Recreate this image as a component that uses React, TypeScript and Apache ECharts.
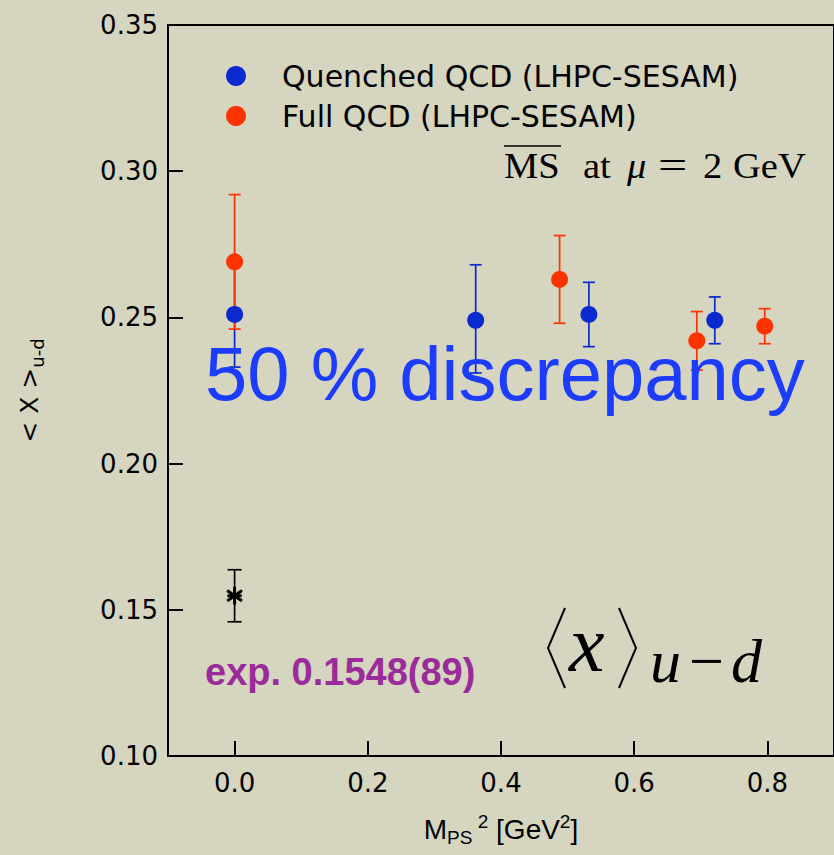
import React, { useEffect, useRef } from "react";
import * as echarts from "echarts";

// Quenched QCD (LHPC-SESAM)
const quenchedX = [0.0, 0.362, 0.532, 0.721];
const quenchedY = [0.251, 0.249, 0.251, 0.249];
const quenchedLow = [0.233, 0.231, 0.24, 0.241];
const quenchedHigh = [0.269, 0.268, 0.262, 0.257];

// Full QCD (LHPC-SESAM)
const fullX = [0.0, 0.488, 0.694, 0.796];
const fullY = [0.269, 0.263, 0.242, 0.247];
const fullLow = [0.246, 0.248, 0.232, 0.241];
const fullHigh = [0.292, 0.278, 0.252, 0.253];

// experiment
const expX = [0.0];
const expY = [0.1548];
const expErr = [0.0089];

const xTickValues = [0.0, 0.2, 0.4, 0.6, 0.8];
const yMin = 0.1;
const yMax = 0.35;
const yStep = 0.05;
const xMin = -0.1;
const xMax = 0.9;

const seriesNames = ["Quenched QCD (LHPC-SESAM)", "Full QCD (LHPC-SESAM)"];

const BLUE = "#0a29cf";
const RED = "#ff3300";

function errorBarRender(color: string) {
  return (params: any, api: any) => {
    const x = api.value(0);
    const lo = api.value(1);
    const hi = api.value(2);
    const pLo = api.coord([x, lo]);
    const pHi = api.coord([x, hi]);
    const cap = 6;
    const style = { stroke: color, lineWidth: 1.7 };
    return {
      type: "group",
      children: [
        { type: "line", shape: { x1: pLo[0], y1: pLo[1], x2: pHi[0], y2: pHi[1] }, style },
        { type: "line", shape: { x1: pLo[0] - cap, y1: pLo[1], x2: pLo[0] + cap, y2: pLo[1] }, style },
        { type: "line", shape: { x1: pHi[0] - cap, y1: pHi[1], x2: pHi[0] + cap, y2: pHi[1] }, style },
      ],
    };
  };
}

function asteriskRender(params: any, api: any) {
  const x = api.value(0);
  const y = api.value(1);
  const e = api.value(2);
  const c = api.coord([x, y]);
  const pLo = api.coord([x, y - e]);
  const pHi = api.coord([x, y + e]);
  const cap = 7;
  const r = 9;
  const style = { stroke: "#000", lineWidth: 1.7 };
  const star = { stroke: "#000", lineWidth: 3 };
  const arms = [90, 35, 145, 0].map((deg) => {
    const a = (deg * Math.PI) / 180;
    const rr = deg === 0 ? r * 0.8 : r;
    return {
      type: "line",
      shape: {
        x1: c[0] - rr * Math.cos(a),
        y1: c[1] - rr * Math.sin(a),
        x2: c[0] + rr * Math.cos(a),
        y2: c[1] + rr * Math.sin(a),
      },
      style: star,
    };
  });
  return {
    type: "group",
    children: [
      { type: "line", shape: { x1: pLo[0], y1: pLo[1], x2: pHi[0], y2: pHi[1] }, style },
      { type: "line", shape: { x1: pLo[0] - cap, y1: pLo[1], x2: pLo[0] + cap, y2: pLo[1] }, style },
      { type: "line", shape: { x1: pHi[0] - cap, y1: pHi[1], x2: pHi[0] + cap, y2: pHi[1] }, style },
      ...arms,
    ],
  };
}

function txt(text: string, x: number, y: number, style: any, extra: any = {}) {
  return {
    type: "text",
    x,
    y,
    z: 10,
    style: { text, verticalAlign: "middle", align: "left", ...style },
    ...extra,
  };
}

const serif = "'Liberation Serif', 'DejaVu Serif', serif";
const sans = "'DejaVu Sans', sans-serif";
const arial = "'Liberation Sans', Arial, sans-serif";

function buildOption() {
  const qPts = quenchedX.map((x, i) => [x, quenchedY[i]]);
  const fPts = fullX.map((x, i) => [x, fullY[i]]);
  const qErr = quenchedX.map((x, i) => [x, quenchedLow[i], quenchedHigh[i]]);
  const fErr = fullX.map((x, i) => [x, fullLow[i], fullHigh[i]]);
  const eData = expX.map((x, i) => [x, expY[i], expErr[i]]);

  const msScale = 1.1;
  const msStyle = { fontFamily: serif, fontSize: 35, fill: "#000" };
  const msY = 166;

  return {
    animation: false,
    backgroundColor: "#d6d5bf",
    grid: {
      left: 168,
      top: 25,
      width: 670,
      height: 731,
      show: true,
      borderColor: "#000",
      borderWidth: 2,
      backgroundColor: "transparent",
    },
    legend: {
      data: seriesNames,
      orient: "vertical",
      left: 221,
      top: 56,
      icon: "circle",
      itemWidth: 20,
      itemHeight: 20,
      itemGap: 10,
      selectedMode: false,
      textStyle: {
        fontFamily: sans,
        fontSize: 30,
        color: "#000",
        padding: [0, 0, 0, 31],
      },
    },
    xAxis: {
      type: "value",
      min: xMin,
      max: xMax,
      splitLine: { show: false },
      axisLine: { show: true, onZero: false, lineStyle: { color: "#000", width: 2 } },
      axisTick: {
        show: true,
        inside: true,
        length: 15,
        customValues: xTickValues,
        lineStyle: { color: "#000", width: 2 },
      },
      axisLabel: {
        customValues: xTickValues,
        formatter: (v: number) => v.toFixed(1),
        fontFamily: sans,
        fontSize: 26,
        color: "#000",
        margin: 14,
      },
      name: "{a|M}{s|PS}{p| 2}{a| [GeV}{p|2}{a|]}",
      nameLocation: "middle",
      nameGap: 56,
      nameTextStyle: {
        rich: {
          a: { fontFamily: arial, fontSize: 28, color: "#000" },
          s: { fontFamily: arial, fontSize: 19, color: "#000", padding: [16, 0, 0, 0] },
          p: { fontFamily: arial, fontSize: 19, color: "#000", padding: [0, 0, 16, 0] },
        },
      },
    },
    yAxis: {
      type: "value",
      min: yMin,
      max: yMax,
      interval: yStep,
      splitLine: { show: false },
      axisLine: { show: true, onZero: false, lineStyle: { color: "#000", width: 2 } },
      axisTick: { show: true, inside: true, length: 15, lineStyle: { color: "#000", width: 2 } },
      axisLabel: {
        formatter: (v: number) => v.toFixed(2),
        fontFamily: sans,
        fontSize: 26,
        color: "#000",
        margin: 10,
      },
      name: "{a|< X >}{s|u-d}",
      nameLocation: "middle",
      nameGap: 122,
      nameTextStyle: {
        rich: {
          a: { fontFamily: sans, fontSize: 25, color: "#000" },
          s: { fontFamily: sans, fontSize: 18, color: "#000", padding: [15, 0, 0, 0] },
        },
      },
    },
    series: [
      {
        type: "custom",
        name: "qErr",
        renderItem: errorBarRender(BLUE),
        data: qErr,
        encode: { x: 0, y: [1, 2] },
        z: 2,
        silent: true,
      },
      {
        type: "custom",
        name: "fErr",
        renderItem: errorBarRender(RED),
        data: fErr,
        encode: { x: 0, y: [1, 2] },
        z: 2,
        silent: true,
      },
      {
        type: "custom",
        name: "exp",
        renderItem: asteriskRender,
        data: eData,
        encode: { x: 0, y: 1 },
        z: 2,
        silent: true,
      },
      {
        type: "scatter",
        name: seriesNames[0],
        data: qPts,
        symbol: "circle",
        symbolSize: 17,
        itemStyle: { color: BLUE, opacity: 1 },
        z: 3,
      },
      {
        type: "scatter",
        name: seriesNames[1],
        data: fPts,
        symbol: "circle",
        symbolSize: 17,
        itemStyle: { color: RED, opacity: 1 },
        z: 4,
      },
    ],
    graphic: [
      // MS-bar at mu = 2 GeV
      txt("MS", 504, msY, msStyle, { scaleX: msScale }),
      { type: "line", z: 10, shape: { x1: 504, y1: 146, x2: 561, y2: 146 }, style: { stroke: "#000", lineWidth: 1.6 } },
      txt("at", 583, msY, msStyle, { scaleX: msScale }),
      txt("μ", 627, msY, { ...msStyle, fontStyle: "italic" }, { scaleX: msScale }),
      txt("=", 658, msY, { ...msStyle, fontSize: 40 }, { scaleX: 1.3 }),
      txt("2", 703, msY, msStyle, { scaleX: msScale }),
      txt("GeV", 733, msY, msStyle, { scaleX: msScale }),
      // 50 % discrepancy
      txt("50 % discrepancy", 205, 373, {
        fontFamily: arial,
        fontSize: 76,
        fill: "#1c3cff",
      }),
      // exp value
      txt("exp. 0.1548(89)", 205, 672, {
        fontFamily: arial,
        fontSize: 38,
        fontWeight: "bold",
        fill: "#9a2b9a",
      }),
      // <x>_{u-d}
      { type: "polyline", z: 10, shape: { points: [[565, 608], [548, 648], [565, 688]] }, style: { stroke: "#000", lineWidth: 2, fill: "none" } },
      { type: "polyline", z: 10, shape: { points: [[619, 608], [636, 648], [619, 688]] }, style: { stroke: "#000", lineWidth: 2, fill: "none" } },
      txt("x", 569, 644, { fontFamily: serif, fontSize: 80, fontStyle: "italic", fill: "#000" }),
      txt("u", 650, 661, { fontFamily: serif, fontSize: 62, fontStyle: "italic", fill: "#000" }),
      txt("−", 689, 661, { fontFamily: serif, fontSize: 62, fill: "#000" }),
      txt("d", 731, 661, { fontFamily: serif, fontSize: 62, fontStyle: "italic", fill: "#000" }),
    ],
  };
}

export default function App() {
  const ref = useRef<HTMLDivElement>(null);
  useEffect(() => {
    if (!ref.current) return;
    const chart = echarts.init(ref.current, null, { renderer: "svg" });
    chart.setOption(buildOption() as any);
    return () => chart.dispose();
  }, []);
  return (
    <div
      ref={ref}
      style={{ position: "fixed", left: 0, top: 0, width: 834, height: 855, background: "#d6d5bf" }}
    />
  );
}
